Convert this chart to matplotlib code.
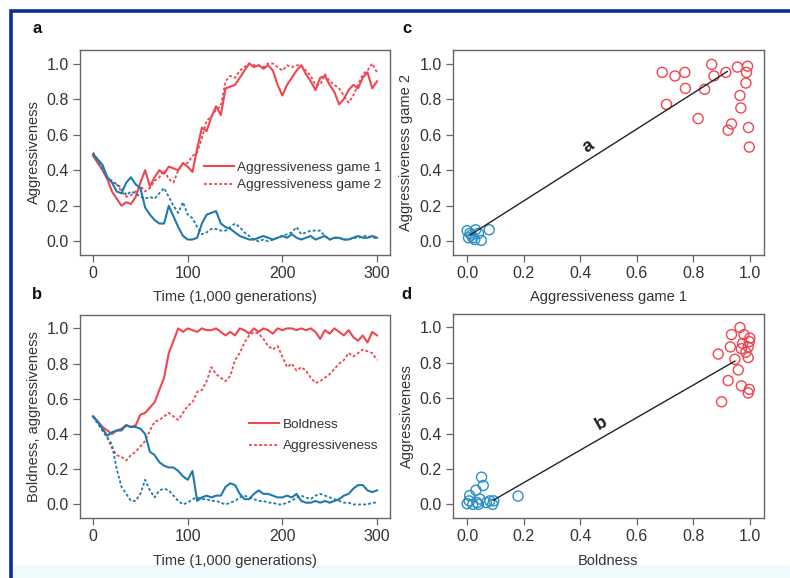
import matplotlib.pyplot as plt
import numpy as np
from matplotlib.patches import Rectangle

plt.rcParams['font.family'] = ['Liberation Sans', 'DejaVu Sans']

RED = '#ef4650'
BLUE = '#1f7aab'

# panel a: aggressiveness in two games, red and blue populations
t_a = [0, 5, 10, 15, 20, 25, 30, 35, 40, 45, 50, 55, 60, 65, 70, 75, 80, 85, 90, 95,
       100, 105, 110, 115, 120, 125, 130, 135, 140, 145, 150, 155, 160, 165, 170, 175, 180, 185, 190, 195,
       200, 205, 210, 215, 220, 225, 230, 235, 240, 245, 250, 255, 260, 265, 270, 275, 280, 285, 290, 295, 300]
red_g1 = [0.48, 0.44, 0.40, 0.35, 0.28, 0.24, 0.20, 0.22, 0.21, 0.25, 0.33, 0.40, 0.31, 0.36, 0.40, 0.38, 0.42, 0.41, 0.40, 0.44,
          0.42, 0.39, 0.52, 0.64, 0.62, 0.70, 0.76, 0.71, 0.86, 0.87, 0.88, 0.92, 0.96, 1.00, 0.98, 0.99, 0.97, 0.99, 0.96, 0.88,
          0.82, 0.88, 0.92, 0.96, 0.99, 0.94, 0.90, 0.85, 0.92, 0.93, 0.88, 0.84, 0.77, 0.80, 0.85, 0.88, 0.86, 0.92, 0.95, 0.86, 0.90]
red_g2 = [0.50, 0.46, 0.42, 0.36, 0.33, 0.32, 0.28, 0.25, 0.26, 0.28, 0.31, 0.28, 0.30, 0.34, 0.36, 0.40, 0.35, 0.33, 0.40, 0.44,
          0.44, 0.48, 0.50, 0.58, 0.68, 0.70, 0.74, 0.76, 0.90, 0.93, 0.92, 0.96, 0.98, 1.00, 0.99, 0.99, 0.98, 1.00, 1.00, 0.98,
          0.96, 0.99, 0.98, 0.99, 0.99, 0.96, 0.93, 0.88, 0.88, 0.94, 0.90, 0.88, 0.86, 0.82, 0.78, 0.82, 0.88, 0.94, 0.96, 1.00, 0.95]
blue_g1 = [0.49, 0.46, 0.43, 0.36, 0.33, 0.28, 0.27, 0.33, 0.36, 0.32, 0.30, 0.19, 0.15, 0.12, 0.10, 0.10, 0.20, 0.14, 0.08, 0.03,
           0.01, 0.01, 0.02, 0.10, 0.15, 0.16, 0.17, 0.10, 0.08, 0.07, 0.05, 0.03, 0.02, 0.01, 0.01, 0.02, 0.03, 0.02, 0.01, 0.02,
           0.03, 0.02, 0.04, 0.02, 0.01, 0.02, 0.03, 0.01, 0.02, 0.03, 0.01, 0.02, 0.02, 0.01, 0.01, 0.02, 0.03, 0.02, 0.02, 0.03, 0.02]
blue_g2 = [0.49, 0.45, 0.40, 0.36, 0.34, 0.32, 0.30, 0.26, 0.28, 0.27, 0.25, 0.24, 0.25, 0.24, 0.27, 0.30, 0.25, 0.20, 0.16, 0.22,
           0.15, 0.13, 0.08, 0.04, 0.05, 0.07, 0.07, 0.06, 0.06, 0.08, 0.10, 0.08, 0.05, 0.03, 0.01, 0.00, 0.01, 0.00, 0.01, 0.02,
           0.03, 0.04, 0.05, 0.08, 0.04, 0.05, 0.06, 0.06, 0.06, 0.03, 0.01, 0.02, 0.02, 0.01, 0.01, 0.02, 0.02, 0.03, 0.03, 0.02, 0.02]

# panel b: boldness and aggressiveness
t_b = t_a
red_bold = [0.50, 0.47, 0.44, 0.42, 0.40, 0.42, 0.43, 0.45, 0.44, 0.45, 0.51, 0.52, 0.55, 0.58, 0.65, 0.72, 0.86, 0.93, 1.00, 0.98,
            1.00, 0.99, 0.98, 1.00, 0.99, 0.99, 1.00, 0.98, 0.96, 0.98, 0.96, 1.00, 0.99, 0.97, 1.00, 0.98, 1.00, 0.99, 0.97, 1.00,
            0.99, 1.00, 1.00, 0.99, 1.00, 0.99, 1.00, 0.98, 0.94, 0.99, 0.97, 1.00, 0.98, 0.96, 0.99, 0.95, 0.93, 0.96, 0.92, 0.98, 0.96]
red_aggr = [0.50, 0.46, 0.42, 0.38, 0.32, 0.28, 0.27, 0.25, 0.28, 0.30, 0.33, 0.36, 0.42, 0.47, 0.48, 0.50, 0.52, 0.50, 0.48, 0.52,
            0.56, 0.58, 0.64, 0.65, 0.70, 0.78, 0.74, 0.72, 0.70, 0.73, 0.82, 0.86, 0.92, 0.96, 0.98, 0.97, 0.94, 0.90, 0.88, 0.90,
            0.84, 0.78, 0.80, 0.76, 0.78, 0.76, 0.72, 0.69, 0.70, 0.72, 0.74, 0.77, 0.80, 0.82, 0.86, 0.84, 0.86, 0.88, 0.87, 0.86, 0.82]
blue_bold = [0.50, 0.47, 0.43, 0.39, 0.41, 0.42, 0.42, 0.45, 0.44, 0.44, 0.43, 0.40, 0.30, 0.28, 0.24, 0.22, 0.21, 0.21, 0.19, 0.16,
             0.14, 0.19, 0.02, 0.04, 0.05, 0.04, 0.05, 0.05, 0.10, 0.12, 0.11, 0.06, 0.03, 0.03, 0.06, 0.08, 0.06, 0.06, 0.05, 0.04,
             0.04, 0.05, 0.04, 0.06, 0.02, 0.01, 0.01, 0.02, 0.01, 0.02, 0.01, 0.02, 0.03, 0.05, 0.06, 0.09, 0.11, 0.11, 0.08, 0.07, 0.08]
blue_aggr = [0.50, 0.46, 0.42, 0.38, 0.34, 0.20, 0.10, 0.06, 0.02, 0.02, 0.06, 0.14, 0.08, 0.04, 0.08, 0.09, 0.08, 0.05, 0.02, 0.00,
             0.01, 0.03, 0.04, 0.03, 0.03, 0.02, 0.02, 0.01, 0.00, 0.01, 0.02, 0.04, 0.05, 0.04, 0.03, 0.02, 0.02, 0.01, 0.01, 0.00,
             0.00, 0.01, 0.02, 0.04, 0.05, 0.04, 0.03, 0.05, 0.06, 0.05, 0.04, 0.03, 0.02, 0.01, 0.01, 0.00, 0.00, 0.00, 0.00, 0.01, 0.01]

# panel c: game 1 vs game 2 per run
c_red_x = [0.69, 0.735, 0.77, 0.772, 0.705, 0.817, 0.84, 0.865, 0.873, 0.915,
           0.956, 0.992, 0.988, 0.986, 0.965, 0.968, 0.935, 0.923, 0.995, 0.998]
c_red_y = [0.95, 0.93, 0.95, 0.86, 0.77, 0.69, 0.855, 0.995, 0.93, 0.95,
           0.98, 0.985, 0.95, 0.89, 0.82, 0.75, 0.66, 0.625, 0.64, 0.53]
c_blue_x = [0.0, 0.015, 0.03, 0.005, 0.02, 0.04, 0.05, 0.078, 0.01, 0.027]
c_blue_y = [0.06, 0.035, 0.065, 0.02, 0.02, 0.045, 0.005, 0.065, 0.045, 0.01]
c_fit_x = [0.01, 0.92]
c_fit_y = [0.035, 0.955]

# panel d: boldness vs aggressiveness per run
d_red_x = [0.965, 0.935, 0.979, 1.0, 0.998, 0.931, 0.97, 0.994, 0.888, 0.986,
           0.994, 0.947, 0.959, 0.923, 0.97, 0.998, 0.994, 0.90, 0.974]
d_red_y = [1.0, 0.96, 0.96, 0.94, 0.92, 0.89, 0.88, 0.89, 0.85, 0.86,
           0.83, 0.82, 0.76, 0.70, 0.67, 0.65, 0.63, 0.58, 0.91]
d_blue_x = [0.051, 0.057, 0.031, 0.009, 0.0, 0.007, 0.035, 0.045, 0.068, 0.08,
            0.094, 0.18, 0.02, 0.04, 0.09]
d_blue_y = [0.154, 0.107, 0.08, 0.05, 0.004, 0.02, 0.01, 0.03, 0.01, 0.02,
            0.02, 0.047, 0.0, 0.0, 0.0]
d_fit_x = [0.092, 0.947]
d_fit_y = [0.023, 0.81]

fig = plt.figure(figsize=(7.9, 5.78), dpi=100)

ax_a = fig.add_axes([0.1013, 0.5588, 0.3924, 0.3547])
ax_c = fig.add_axes([0.5734, 0.5588, 0.3937, 0.3547])
ax_b = fig.add_axes([0.1013, 0.1038, 0.3924, 0.3512])
ax_d = fig.add_axes([0.5734, 0.1038, 0.3937, 0.3529])

dots = (0, (1.6, 1.2))


def style(ax):
    for s in ax.spines.values():
        s.set_color('#666666')
        s.set_linewidth(1.0)
    ax.tick_params(direction='out', length=5, width=0.9, color='#666666',
                   labelsize=11.5, labelcolor='#333333', pad=3)
    ax.set_yticks([0, 0.2, 0.4, 0.6, 0.8, 1.0])
    ax.set_yticklabels(['0.0', '0.2', '0.4', '0.6', '0.8', '1.0'])
    ax.set_ylim(-0.077, 1.076)


for ax in (ax_a, ax_b):
    style(ax)
    ax.set_xlim(-13.8, 313.8)
    ax.set_xticks([0, 100, 200, 300])
    ax.set_xlabel('Time (1,000 generations)', fontsize=10.5, color='#333333')

for ax in (ax_c, ax_d):
    style(ax)
    ax.set_xlim(-0.05, 1.05)
    ax.set_xticks([0, 0.2, 0.4, 0.6, 0.8, 1.0])
    ax.set_xticklabels(['0.0', '0.2', '0.4', '0.6', '0.8', '1.0'])

# time series
ax_a.plot(t_a, red_g1, color=RED, lw=1.5, label='Aggressiveness game 1')
ax_a.plot(t_a, red_g2, color=RED, lw=1.3, ls=dots, label='Aggressiveness game 2')
ax_a.plot(t_a, blue_g1, color=BLUE, lw=1.5)
ax_a.plot(t_a, blue_g2, color=BLUE, lw=1.3, ls=dots)
ax_a.set_ylabel('Aggressiveness', fontsize=10.5, color='#333333')

ax_b.plot(t_b, red_bold, color=RED, lw=1.5, label='Boldness')
ax_b.plot(t_b, red_aggr, color=RED, lw=1.3, ls=dots, label='Aggressiveness')
ax_b.plot(t_b, blue_bold, color=BLUE, lw=1.5)
ax_b.plot(t_b, blue_aggr, color=BLUE, lw=1.3, ls=dots)
ax_b.set_ylabel('Boldness, aggressiveness', fontsize=10.5, color='#333333')

ax_a.legend(loc='center left', bbox_to_anchor=(0.40, 0.383), frameon=False,
            fontsize=9.7, handlelength=2.2, handletextpad=0.25, labelspacing=0.35,
            borderpad=0, borderaxespad=0, labelcolor='#333333')
ax_b.legend(loc='center left', bbox_to_anchor=(0.545, 0.406), frameon=False,
            fontsize=9.7, handlelength=2.2, handletextpad=0.3, labelspacing=0.65,
            borderpad=0, borderaxespad=0, labelcolor='#333333')

# scatter panels
mk = dict(marker='o', s=52, facecolors='none', linewidths=1.0, zorder=3)
ax_c.scatter(c_red_x, c_red_y, edgecolors=RED, **mk)
ax_c.scatter(c_blue_x, c_blue_y, edgecolors='#2a8fc4', **mk)
ax_c.plot(c_fit_x, c_fit_y, color='#222222', lw=1.0, zorder=4)
ax_c.text(0.43, 0.535, 'a', fontsize=13, fontweight='bold', rotation=32,
          ha='center', va='center', color='#222222')
ax_c.set_xlabel('Aggressiveness game 1', fontsize=10.5, color='#333333')
ax_c.set_ylabel('Aggressiveness game 2', fontsize=10.5, color='#333333')

ax_d.scatter(d_red_x, d_red_y, edgecolors=RED, **mk)
ax_d.scatter(d_blue_x, d_blue_y, edgecolors='#2a8fc4', **mk)
ax_d.plot(d_fit_x, d_fit_y, color='#222222', lw=1.0, zorder=4)
ax_d.text(0.475, 0.46, 'b', fontsize=13, fontweight='bold', rotation=30,
          ha='center', va='center', color='#222222')
ax_d.set_xlabel('Boldness', fontsize=10.5, color='#333333')
ax_d.set_ylabel('Aggressiveness', fontsize=10.5, color='#333333')

for ax in (ax_a, ax_c):
    ax.xaxis.set_label_coords(0.5, -0.17)
for ax in (ax_b, ax_d):
    ax.xaxis.set_label_coords(0.5, -0.175)
for ax in (ax_a, ax_b, ax_c, ax_d):
    ax.yaxis.set_label_coords(-0.127, 0.5)

# panel letters
for lab, x, y in [('a', 0.047, 0.950), ('c', 0.515, 0.950),
                  ('b', 0.047, 0.490), ('d', 0.515, 0.490)]:
    fig.text(x, y, lab, fontsize=12, fontweight='bold', ha='center', va='center', color='#111111')

# blue frame round the figure and pale strip at the bottom
fig.add_artist(Rectangle((0.0145, 0.0), 1.0, 0.0225, transform=fig.transFigure,
                         facecolor='#eefafc', edgecolor='none', zorder=-1))
fig.add_artist(Rectangle((0.0139, -0.05), 1.05, 0.05 + 0.9818, transform=fig.transFigure,
                         facecolor='none', edgecolor='#0f2f8f', lw=2.6, zorder=5))

fig.savefig('out.png', dpi=100)
